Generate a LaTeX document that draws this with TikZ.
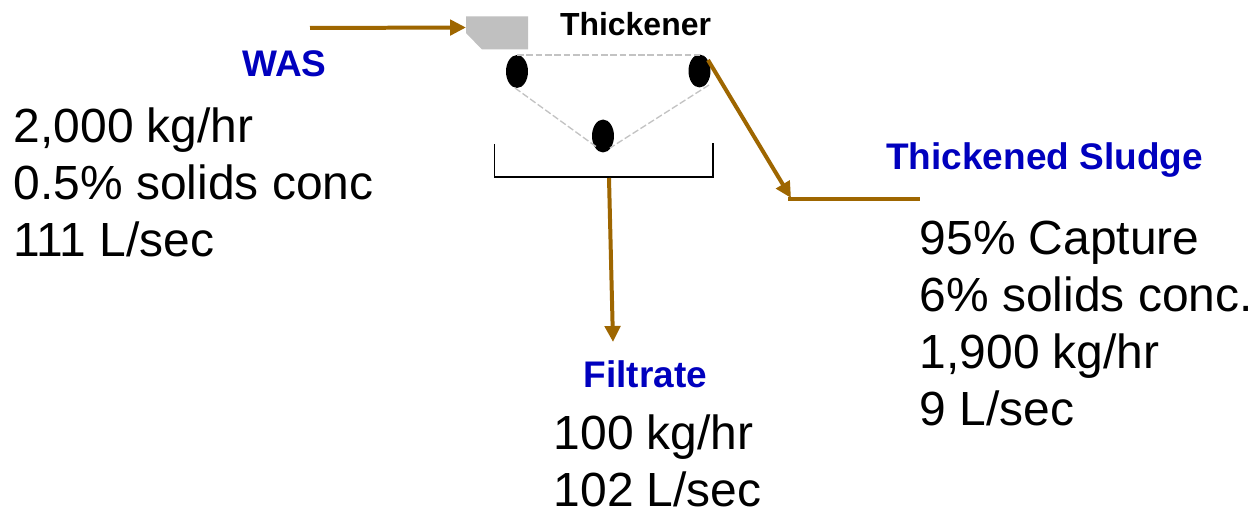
\documentclass[tikz,border=0pt]{standalone}
\usepackage{fontspec}
\setmainfont{Liberation Sans}
\usetikzlibrary{arrows.meta,shapes.geometric}
\definecolor{flow}{RGB}{158,102,0}
\definecolor{head}{RGB}{0,0,190}
\definecolor{beltc}{RGB}{195,195,195}
\definecolor{hopper}{RGB}{192,192,192}
\tikzset{
 px/.style={x=0.0264cm,y=-0.0264cm},
 flowline/.style={draw=flow,line width=3pt,-{Triangle[length=12pt,width=11.5pt]}},
 flowplain/.style={draw=flow,line width=3pt},
 belt/.style={draw=beltc,line width=1pt,dash pattern=on 5pt off 2pt},
 roller/.style={ellipse,fill=black,minimum width=16.5pt,minimum height=24.75pt,inner sep=0pt},
 body/.style={anchor=base west,font=\fontsize{36}{40}\selectfont,inner sep=0pt,text=black},
 title/.style={font=\bfseries\fontsize{27.8}{32}\selectfont,text=head,inner sep=0pt,anchor=base},
}
\begin{document}
\begin{tikzpicture}[px]
\useasboundingbox (0,0) rectangle (1255,509);
\fill[white] (0,0) rectangle (1255,509);
\coordinate (wasS) at (310,28);
\coordinate (hopIn) at (466,27.5);
\fill[hopper] (466,16.5) -- (528,16.5) -- (528,49.5) -- (482,49.5) -- (466,33) -- cycle;
\node[roller] (r1) at (517,71.5) {};
\node[roller] (r2) at (699.5,71) {};
\node[roller] (r3) at (603,136) {};
\coordinate (b0) at (517,55);
\coordinate (b1) at (700,55);
\coordinate (b2) at (515,88);
\coordinate (b3) at (598,148);
\coordinate (b4) at (709,85);
\coordinate (b5) at (610,148);
\draw[belt] (b0) -- (b1);
\draw[belt] (b2) -- (b3);
\draw[belt] (b4) -- (b5);
\draw[black,line width=1pt] (494.5,144) -- (494.5,177) -- (713,177) -- (713,143);
\draw[flowline] (wasS) -- (hopIn);
\coordinate (t1) at (708,60);
\coordinate (t2) at (791,198);
\coordinate (t3) at (920,199);
\coordinate (t4) at (788,199);
\coordinate (f1) at (609,178);
\coordinate (f2) at (613,342);
\draw[flowline] (t1) -- (t2);
\draw[flowplain] (t4) -- (t3);
\draw[flowline] (f1) -- (f2);
\node[inner sep=0pt,font=\bfseries\fontsize{24}{28}\selectfont,anchor=base] (thk) at (635.5,36) {Thickener};
\node[title] (was) at (284.5,76.5) {WAS};
\node[title] (ts) at (1044.5,169.5) {Thickened Sludge};
\node[title] (fil) at (645.5,388) {Filtrate};
\node[body] (a1) at (13.5,142.5) {2,000 kg/hr};
\node[body] (a2) at (13.5,199.5) {0.5\% solids conc};
\node[body] (a3) at (13.5,256.5) {111 L/sec};
\node[body] (b1t) at (919.5,254.5) {95\% Capture};
\node[body] (b2t) at (919.5,311.5) {6\% solids conc.};
\node[body] (b3t) at (919.5,368.5) {1,900 kg/hr};
\node[body] (b4t) at (919.5,425.5) {9 L/sec};
\node[body] (c1) at (553.5,449) {100 kg/hr};
\node[body] (c2) at (553.5,506) {102 L/sec};
\end{tikzpicture}
\end{document}
